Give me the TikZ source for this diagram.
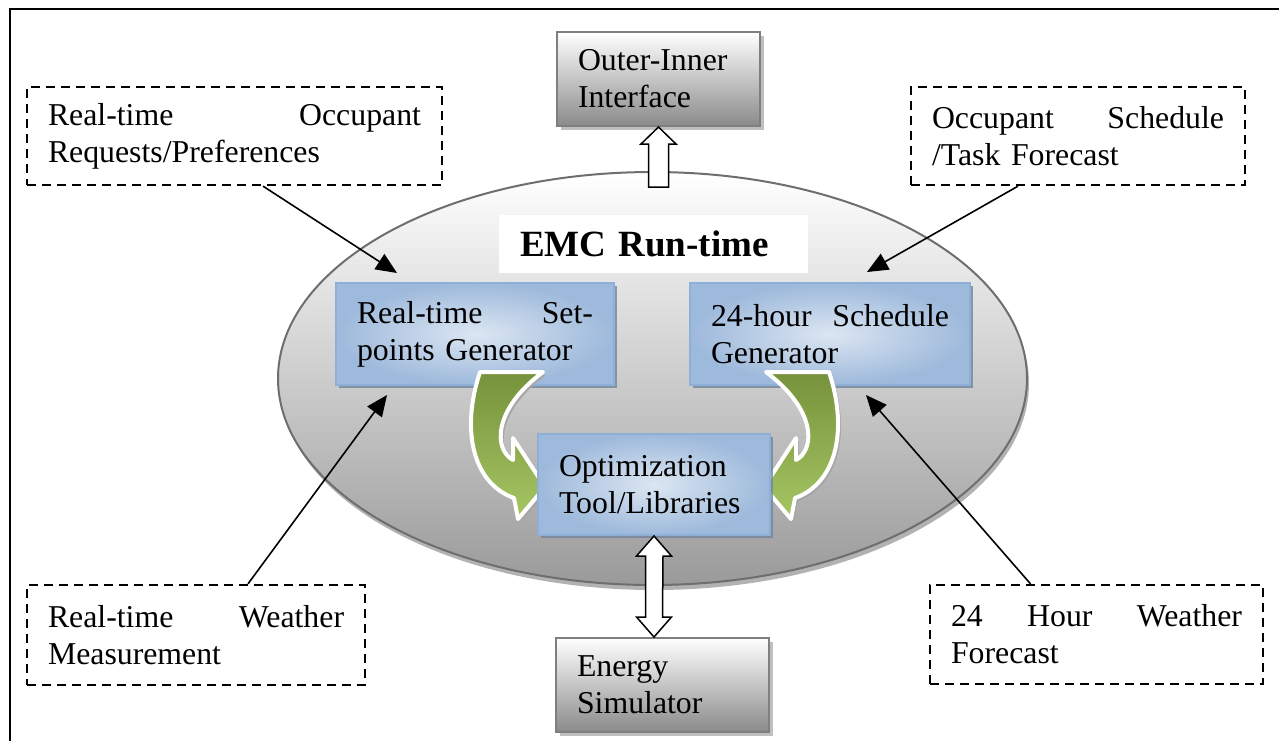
\documentclass[tikz,border=0pt]{standalone}
\usepackage{fontspec}
\setmainfont{Liberation Serif}
\usetikzlibrary{shapes.geometric,arrows.meta,calc,shadows}
\definecolor{ellborder}{HTML}{6E6E6E}
\definecolor{ellbottom}{HTML}{9A9A9A}
\definecolor{greyboxbottom}{HTML}{8A8A8A}
\definecolor{greyborder}{HTML}{7F7F7F}
\definecolor{blueinner}{HTML}{DCE6F2}
\definecolor{blueouter}{HTML}{9DB9DB}
\definecolor{blueborder}{HTML}{8EB0D8}
\definecolor{blueshadow}{HTML}{73849C}
\definecolor{olivedark}{HTML}{76923C}
\definecolor{greenlight}{HTML}{A6C663}
\tikzset{
  body/.style={font=\fontsize{31.8pt}{37pt}\selectfont},
  greybox/.style={body, draw=greyborder, line width=2pt, top color=white, bottom color=greyboxbottom,
    inner xsep=21pt, inner ysep=0pt, align=left,
    drop shadow={shadow xshift=4pt, shadow yshift=-4pt, fill=black!25, opacity=1}},
  bluebox/.style={body, draw=blueborder, line width=2pt, inner color=blueinner, outer color=blueouter,
    inner xsep=21pt, inner ysep=0pt, align=left,
    drop shadow={shadow xshift=3pt, shadow yshift=-3pt, fill=blueshadow, opacity=0.8}},
  dashbox/.style={body, draw=black, line width=2.3pt, dash pattern=on 9pt off 6pt,
    inner xsep=21pt, inner ysep=0pt, align=left},
  thinarrow/.style={line width=1.6pt, -{Triangle[length=21pt,width=18pt]}},
  hollow/.style={draw=black, fill=white, line width=1.5pt, line join=miter},
  greenarrow/.style={draw=white, line width=4pt, top color=olivedark, bottom color=greenlight, line join=round},
}
\newcommand{\curvedarrowpath}{(480,372) .. controls (460,432) and (474,484) .. (514,498) -- (518,519) -- (545,487) -- (513,438) -- (513,460) .. controls (494,450) and (492,410) .. (543,372) -- cycle}
\begin{document}
\begin{tikzpicture}[x=1pt,y=-1pt]
\useasboundingbox (0,0) rectangle (1279,740);
\draw[line width=2pt] (10,9) rectangle (1300,770);

% ellipse
\node[ellipse, draw=ellborder, line width=2pt, top color=white, bottom color=ellbottom,
  minimum width=749pt, minimum height=413pt, inner sep=0pt,
  drop shadow={shadow xshift=2pt, shadow yshift=-5pt, fill=black!30, opacity=1}] (emc) at (652.5,378.5) {};

% title
\node[fill=white, minimum width=309pt, minimum height=58pt, inner xsep=21pt, text width=267pt, align=left,
  font=\fontsize{37pt}{40pt}\selectfont\bfseries] (title) at (653.5,244) {EMC Run-time};

% grey boxes
\node[greybox, minimum width=203pt, minimum height=94pt, text width=161pt] (oi) at (658.5,79) {Outer-Inner\\Interface};
\node[greybox, minimum width=213pt, minimum height=94pt, text width=171pt] (es) at (662.5,685) {Energy\\Simulator};

% blue boxes
\node[bluebox, minimum width=278pt, minimum height=102pt, text width=236pt] (sp) at (475,334) {Real-time\hfill Set-\\points Generator};
\node[bluebox, minimum width=280pt, minimum height=102pt, text width=238pt] (sg) at (830,334) {24-hour\hfill Schedule\\Generator};

% green curved arrows
\fill[black!35] [shift={(3,3)}] \curvedarrowpath;
\path[greenarrow] \curvedarrowpath;
\begin{scope}[shift={(1312,3)}, xscale=-1]
\fill[black!35] \curvedarrowpath;
\end{scope}
\begin{scope}[shift={(1309,0)}, xscale=-1]
\path[greenarrow] \curvedarrowpath;
\end{scope}

\node[bluebox, minimum width=232pt, minimum height=101pt, text width=190pt] (opt) at (654,484.5) {Optimization\\Tool/Libraries};

% dashed boxes
\node[dashbox, minimum width=415pt, minimum height=98pt, text width=373pt] (d1) at (234.5,136) {Real-time\hfill Occupant\\Requests/Preferences};
\node[dashbox, minimum width=334pt, minimum height=98pt, text width=292pt] (d2) at (1078,136) {Occupant\hfill Schedule\\/Task Forecast};
\node[dashbox, minimum width=338pt, minimum height=100pt, text width=296pt] (d3) at (196,635) {Real-time\hfill Weather\\Measurement};
\node[dashbox, minimum width=333pt, minimum height=99pt, text width=291pt] (d4) at (1096.5,634.5) {24\hfill Hour\hfill Weather\\Forecast};

% hollow arrows
\draw[hollow] (oi.south) -- ++(17.5,17) -- ++(-7.5,0) -- ++(0,43) -- ++(-20,0) -- ++(0,-43) -- ++(-7.5,0) -- cycle;
\coordinate (dtop) at (opt.south);
\coordinate (dbot) at (opt.south |- es.north);
\draw[hollow] (dtop) -- ++(17.5,20) -- ++(-8.5,0) -- ($(dbot)+(8.5,-20)$) -- ++(9,0) -- (dbot) -- ++(-17.5,-20) -- ++(9,0) -- ($(dtop)+(-8.5,20)$) -- ++(-9,0) -- cycle;

% thin arrows
\coordinate (t1) at (397,273);
\coordinate (t2) at (867,272);
\coordinate (t3) at (387,395);
\coordinate (t4) at (866,395);
\draw[thinarrow] ($(d1.south)+(28.5,0)$) -- (t1);
\draw[thinarrow] ($(d2.south)+(-60,0)$) -- (t2);
\draw[thinarrow] ($(d3.north)+(52,0)$) -- (t3);
\draw[thinarrow] ($(d4.north)+(-66,0)$) -- (t4);
\end{tikzpicture}
\end{document}
